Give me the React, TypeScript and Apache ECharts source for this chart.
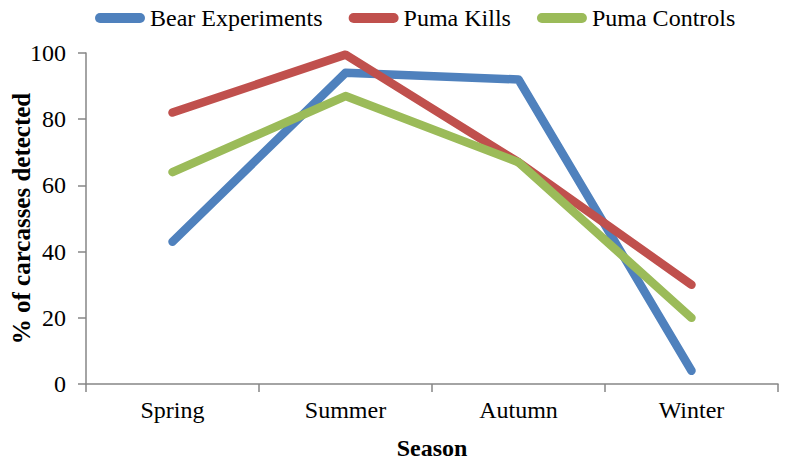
import React, { useEffect, useRef } from "react";
import * as echarts from "echarts";

const seasons = ["Spring", "Summer", "Autumn", "Winter"];
const bearExperiments = [43, 94, 92, 4];
const pumaKills = [82, 99.5, 67, 30];
const pumaControls = [64, 87, 67, 20];
const seriesNames = ["Bear Experiments", "Puma Kills", "Puma Controls"];
const seriesColors = ["#4F81BD", "#C0504D", "#9BBB59"];

const capsule = "path://M5,0 H45 A5,5 0 0 1 45,10 H5 A5,5 0 0 1 5,0 Z";
const FONT = "Liberation Serif";

export default function App() {
  const ref = useRef<HTMLDivElement>(null);
  useEffect(() => {
    if (!ref.current) return;
    const chart = echarts.init(ref.current, null, { renderer: "svg" });
    const values = [bearExperiments, pumaKills, pumaControls];
    chart.setOption({
      animation: false,
      backgroundColor: "#ffffff",
      textStyle: { fontFamily: FONT },
      legend: {
        top: 1,
        left: 90,
        itemWidth: 50,
        itemHeight: 10,
        itemGap: 26,
        icon: capsule,
        textStyle: { fontFamily: FONT, fontSize: 24, color: "#000", fontWeight: "normal" },
        data: seriesNames,
      },
      grid: { left: 86, right: 9, top: 53, bottom: 77, containLabel: false, outerBoundsMode: "none" },
      xAxis: {
        type: "category",
        data: seasons,
        boundaryGap: true,
        name: "Season",
        nameLocation: "middle",
        nameGap: 52,
        nameMoveOverlap: false,
        nameTextStyle: { fontFamily: FONT, fontSize: 24, fontWeight: "bold", color: "#000" },
        axisLine: { lineStyle: { color: "#868686", width: 1.5 } },
        axisTick: { show: true, length: 8, inside: false, lineStyle: { color: "#868686", width: 1.5 } },
        axisLabel: { fontFamily: FONT, fontSize: 24, color: "#000", margin: 14 },
        splitLine: { show: false },
      },
      yAxis: {
        type: "value",
        min: 0,
        max: 100,
        interval: 20,
        name: "% of carcasses detected",
        nameLocation: "middle",
        nameGap: 52,
        nameMoveOverlap: false,
        nameRotate: 90,
        nameTextStyle: { fontFamily: FONT, fontSize: 25, fontWeight: "bold", color: "#000" },
        axisLine: { show: true, lineStyle: { color: "#868686", width: 1.5 } },
        axisTick: { show: true, length: 8, inside: false, lineStyle: { color: "#868686", width: 1.5 } },
        axisLabel: { fontFamily: FONT, fontSize: 24, color: "#000", margin: 20 },
        splitLine: { show: false },
      },
      series: seriesNames.map((name, i) => ({
        name,
        type: "line",
        data: values[i],
        showSymbol: false,
        symbol: "none",
        itemStyle: { color: seriesColors[i] },
        lineStyle: { color: seriesColors[i], width: 8.5, cap: "round", join: "round" },
      })),
    });
    return () => chart.dispose();
  }, []);
  return <div ref={ref} style={{ width: 787, height: 461, position: "absolute", left: 0, top: 0 }} />;
}
